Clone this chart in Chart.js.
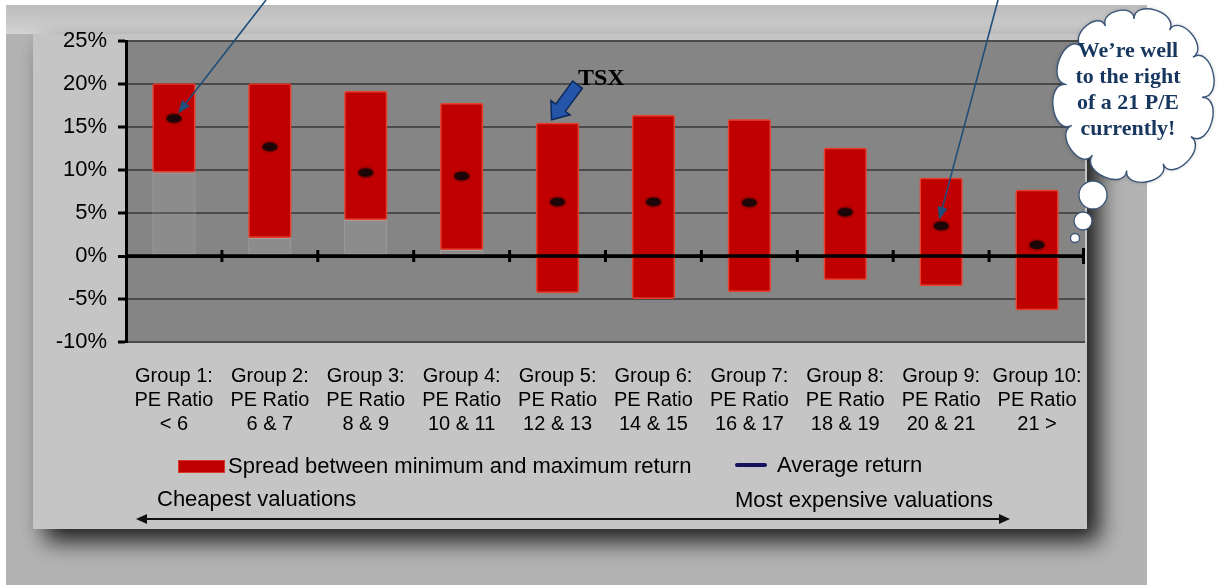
<!DOCTYPE html>
<html>
<head>
<meta charset="utf-8">
<script src="https://cdn.jsdelivr.net/npm/chart.js@4.4.1/dist/chart.umd.min.js"></script>
<style>
  html, body { margin: 0; padding: 0; background: #fff; }
  #wrap { width: 1225px; height: 585px; }
</style>
</head>
<body>
<div id="wrap"><canvas id="c" width="1225" height="585"></canvas></div>
<script>
// ---------- data ----------
const categories = [
  ['Group 1:', 'PE Ratio', '< 6'],
  ['Group 2:', 'PE Ratio', '6 & 7'],
  ['Group 3:', 'PE Ratio', '8 & 9'],
  ['Group 4:', 'PE Ratio', '10 & 11'],
  ['Group 5:', 'PE Ratio', '12 & 13'],
  ['Group 6:', 'PE Ratio', '14 & 15'],
  ['Group 7:', 'PE Ratio', '16 & 17'],
  ['Group 8:', 'PE Ratio', '18 & 19'],
  ['Group 9:', 'PE Ratio', '20 & 21'],
  ['Group 10:', 'PE Ratio', '21 >']
];
const minReturn = [9.7, 2.1, 4.2, 0.7, -4.3, -5.0, -4.2, -2.8, -3.5, -6.3];
const maxReturn = [20.1, 20.1, 19.2, 17.8, 15.5, 16.4, 15.9, 12.6, 9.1, 7.7];
const avgReturn = [16.0, 12.7, 9.7, 9.3, 6.3, 6.3, 6.2, 5.1, 3.5, 1.3];
const yMin = -10, yMax = 25, yStep = 5;
const legendLabels = ['Spread between minimum and maximum return', 'Average return'];
const bottomLabels = ['Cheapest valuations', 'Most expensive valuations'];
const tsxLabel = 'TSX';
const tsxIndex = 4;
const pointerIndexes = [0, 8];
const cloudLines = ['We\u2019re well', 'to the right', 'of a 21 P/E', 'currently!'];

Chart.defaults.font.family = '"Liberation Sans", Arial, sans-serif';

// average marker image
function makeDot() {
  const c = document.createElement('canvas');
  c.width = 24; c.height = 16;
  const g = c.getContext('2d');
  g.shadowColor = 'rgba(30,0,0,0.9)';
  g.shadowBlur = 3;
  g.fillStyle = '#1c0608';
  g.beginPath();
  g.ellipse(12, 8, 7.5, 4.3, 0, 0, Math.PI * 2);
  g.fill();
  return c;
}
const dot = makeDot();

function lineArrow(ctx, x0, y0, x1, y1, color) {
  const ang = Math.atan2(y1 - y0, x1 - x0);
  const hl = 13, hw = 5;
  ctx.save();
  ctx.strokeStyle = color; ctx.fillStyle = color; ctx.lineWidth = 1.6;
  ctx.beginPath();
  ctx.moveTo(x0, y0);
  ctx.lineTo(x1 - Math.cos(ang) * hl * 0.8, y1 - Math.sin(ang) * hl * 0.8);
  ctx.stroke();
  ctx.beginPath();
  ctx.moveTo(x1, y1);
  ctx.lineTo(x1 - Math.cos(ang) * hl + Math.sin(ang) * hw, y1 - Math.sin(ang) * hl - Math.cos(ang) * hw);
  ctx.lineTo(x1 - Math.cos(ang) * hl - Math.sin(ang) * hw, y1 - Math.sin(ang) * hl + Math.cos(ang) * hw);
  ctx.closePath();
  ctx.fill();
  ctx.restore();
}

function blockArrow(ctx, x0, y0, x1, y1) {
  const L = Math.hypot(x1 - x0, y1 - y0);
  const ang = Math.atan2(y1 - y0, x1 - x0);
  ctx.save();
  ctx.translate(x0, y0);
  ctx.rotate(ang);
  const sw = 6, hw = 12, hl = 15;
  ctx.beginPath();
  ctx.moveTo(0, -sw);
  ctx.lineTo(L - hl, -sw);
  ctx.lineTo(L - hl, -hw);
  ctx.lineTo(L, 0);
  ctx.lineTo(L - hl, hw);
  ctx.lineTo(L - hl, sw);
  ctx.lineTo(0, sw);
  ctx.closePath();
  ctx.fillStyle = '#2455a8';
  ctx.fill();
  ctx.strokeStyle = '#0d2a5c';
  ctx.lineWidth = 1.5;
  ctx.stroke();
  ctx.restore();
}

function drawCloud(ctx, cx, cy, rx, ry) {
  const offs = [0, 0.55, 1.05, 1.6, 2.15, 2.7, 3.25, 3.8, 4.3, 4.85, 5.4, 5.85];
  const pts = offs.map(t => {
    const a = -Math.PI / 2 + t;
    return [cx + rx * Math.cos(a), cy + ry * Math.sin(a)];
  });
  ctx.save();
  ctx.beginPath();
  ctx.moveTo(pts[0][0], pts[0][1]);
  for (let k = 0; k < pts.length; k++) {
    const p = pts[k], q = pts[(k + 1) % pts.length];
    const nx1 = p[0] - cx, ny1 = p[1] - cy, n1 = Math.hypot(nx1, ny1);
    const nx2 = q[0] - cx, ny2 = q[1] - cy, n2 = Math.hypot(nx2, ny2);
    const chord = Math.hypot(q[0] - p[0], q[1] - p[1]);
    const d = chord * 0.55;
    ctx.bezierCurveTo(p[0] + nx1 / n1 * d, p[1] + ny1 / n1 * d, q[0] + nx2 / n2 * d, q[1] + ny2 / n2 * d, q[0], q[1]);
  }
  ctx.closePath();
  ctx.shadowColor = 'rgba(0,0,0,0.25)';
  ctx.shadowBlur = 4;
  ctx.fillStyle = '#ffffff';
  ctx.fill();
  ctx.shadowColor = 'transparent';
  ctx.strokeStyle = '#3a5578';
  ctx.lineWidth = 1.4;
  ctx.stroke();
  ctx.restore();
}

function bubble(ctx, x, y, r) {
  ctx.save();
  ctx.beginPath();
  ctx.arc(x, y, r, 0, Math.PI * 2);
  ctx.fillStyle = '#fff';
  ctx.fill();
  ctx.strokeStyle = '#3a5578';
  ctx.lineWidth = 1.3;
  ctx.stroke();
  ctx.restore();
}

const deco = {
  id: 'deco',
  beforeDraw(chart) {
    const { ctx, chartArea: a } = chart;
    ctx.save();
    ctx.fillStyle = '#ffffff';
    ctx.fillRect(0, 0, chart.width, chart.height);
    ctx.fillStyle = '#b3b3b3';
    ctx.fillRect(6, 5, 1141, 580);
    const g = ctx.createLinearGradient(0, 5, 0, 34);
    g.addColorStop(0, '#bdbdbd');
    g.addColorStop(0.8, '#cdcdcd');
    g.addColorStop(1, '#d4d4d4');
    ctx.fillStyle = g;
    ctx.fillRect(6, 5, 1141, 29);
    ctx.save();
    ctx.shadowColor = 'rgba(0,0,0,0.85)';
    ctx.shadowBlur = 22;
    ctx.shadowOffsetX = 12;
    ctx.shadowOffsetY = 12;
    ctx.fillStyle = '#c5c5c5';
    ctx.fillRect(33, 34, 1054, 495);
    ctx.restore();
    ctx.fillStyle = '#858585';
    ctx.fillRect(a.left, a.top, a.right - a.left, a.bottom - a.top);
    ctx.restore();
  },
  beforeDatasetDraw(chart, args) {
    if (args.index === 1) {
      chart.ctx.save();
      chart.ctx.shadowColor = 'rgba(255,60,40,0.85)';
      chart.ctx.shadowBlur = 5;
    }
  },
  afterDatasetDraw(chart, args) {
    if (args.index === 1) chart.ctx.restore();
  },
  afterDatasetsDraw(chart) {
    const { ctx, chartArea: a, scales: { x, y } } = chart;
    const y0 = y.getPixelForValue(0);
    ctx.save();
    ctx.strokeStyle = '#000';
    ctx.lineWidth = 3.5;
    ctx.beginPath();
    ctx.moveTo(a.left, y0);
    ctx.lineTo(a.right, y0);
    ctx.stroke();
    ctx.lineWidth = 3;
    for (let i = 0; i < categories.length; i++) {
      const bx = i < categories.length - 1 ? (x.getPixelForValue(i) + x.getPixelForValue(i + 1)) / 2 : a.right - 1.5;
      const h = i < categories.length - 1 ? 6 : 8;
      ctx.beginPath();
      ctx.moveTo(bx, y0 - h);
      ctx.lineTo(bx, y0 + h);
      ctx.stroke();
    }
    ctx.restore();
  },
  afterDraw(chart) {
    const { ctx, scales: { x, y } } = chart;
    ctx.save();
    // legend
    ctx.fillStyle = '#c00000';
    ctx.strokeStyle = '#d83a28';
    ctx.lineWidth = 1;
    ctx.fillRect(178, 460, 47, 13);
    ctx.strokeRect(178.5, 460.5, 46, 12);
    ctx.fillStyle = '#000';
    ctx.font = '22px "Liberation Sans", Arial, sans-serif';
    ctx.textBaseline = 'middle';
    ctx.textAlign = 'left';
    ctx.fillText(legendLabels[0], 228, 467);
    ctx.strokeStyle = '#14145e';
    ctx.lineWidth = 4;
    ctx.lineCap = 'round';
    ctx.beginPath();
    ctx.moveTo(737, 465);
    ctx.lineTo(765, 465);
    ctx.stroke();
    ctx.fillText(legendLabels[1], 777, 466);
    // valuation labels + arrow
    ctx.fillText(bottomLabels[0], 157, 500);
    ctx.textAlign = 'right';
    ctx.fillText(bottomLabels[1], 993, 501);
    ctx.strokeStyle = '#111';
    ctx.lineWidth = 2;
    ctx.lineCap = 'butt';
    ctx.beginPath();
    ctx.moveTo(144, 519);
    ctx.lineTo(1002, 519);
    ctx.stroke();
    ctx.fillStyle = '#111';
    ctx.beginPath();
    ctx.moveTo(136, 519); ctx.lineTo(147, 514); ctx.lineTo(147, 524); ctx.closePath(); ctx.fill();
    ctx.beginPath();
    ctx.moveTo(1010, 519); ctx.lineTo(999, 514); ctx.lineTo(999, 524); ctx.closePath(); ctx.fill();

    // pointer arrows to averages
    const p0x = x.getPixelForValue(pointerIndexes[0]), p0y = y.getPixelForValue(avgReturn[pointerIndexes[0]]);
    lineArrow(ctx, 266, 0, p0x + 4, p0y - 5, '#1f4e79');
    const p1x = x.getPixelForValue(pointerIndexes[1]), p1y = y.getPixelForValue(avgReturn[pointerIndexes[1]]);
    lineArrow(ctx, 998, 0, p1x - 2, p1y - 6, '#1f4e79');

    // TSX
    const tx = x.getPixelForValue(tsxIndex) - 6;
    const ty = y.getPixelForValue(maxReturn[tsxIndex]) - 3;
    blockArrow(ctx, tx + 26, ty - 35, tx, ty);
    ctx.fillStyle = '#000';
    ctx.font = 'bold 24px "Liberation Serif", "Times New Roman", serif';
    ctx.textAlign = 'left';
    ctx.fillText(tsxLabel, 578, 79);

    // cloud
    bubble(ctx, 1075, 238, 4.5);
    bubble(ctx, 1083, 221, 9);
    bubble(ctx, 1093, 195, 14);
    drawCloud(ctx, 1134, 95, 68, 76);
    ctx.fillStyle = '#17375e';
    ctx.font = 'bold 22px "Liberation Serif", "Times New Roman", serif';
    ctx.textAlign = 'center';
    cloudLines.forEach((t, i) => ctx.fillText(t, 1128, 51 + i * 26));
    ctx.restore();
  }
};

new Chart(document.getElementById('c'), {
  type: 'bar',
  data: {
    labels: categories,
    datasets: [
      {
        label: 'base',
        data: minReturn.map(m => (m > 0 ? [0, m] : null)),
        backgroundColor: 'rgba(170,170,170,0.18)',
        borderColor: 'rgba(200,175,175,0.55)',
        borderWidth: 1,
        borderSkipped: false,
        grouped: false,
        barPercentage: 0.45,
        categoryPercentage: 1,
        order: 3
      },
      {
        label: legendLabels[0],
        data: minReturn.map((m, i) => [m, maxReturn[i]]),
        backgroundColor: '#c00000',
        borderColor: '#e2402c',
        borderWidth: 1.5,
        borderSkipped: false,
        borderRadius: 2,
        grouped: false,
        barPercentage: 0.45,
        categoryPercentage: 1,
        order: 2
      },
      {
        type: 'line',
        label: legendLabels[1],
        data: avgReturn,
        showLine: false,
        pointStyle: dot,
        pointRadius: 7,
        pointHoverRadius: 7,
        order: 1
      }
    ]
  },
  options: {
    responsive: false,
    animation: false,
    events: [],
    layout: { padding: { left: 0, right: 140, top: 41, bottom: 0 } },
    plugins: { legend: { display: false }, tooltip: { enabled: false } },
    scales: {
      x: {
        offset: true,
        afterFit(s) { s.height = 243; },
        grid: { display: false, drawTicks: false, tickLength: 0 },
        border: { display: false },
        ticks: {
          color: '#000',
          font: { size: 20, lineHeight: 1.2 },
          padding: 22,
          maxRotation: 0,
          minRotation: 0,
          autoSkip: false
        }
      },
      y: {
        min: yMin,
        max: yMax,
        afterFit(s) { s.width = 126; },
        ticks: {
          stepSize: yStep,
          color: '#000',
          font: { size: 22 },
          padding: 11,
          callback: v => v + '%'
        },
        grid: {
          color: c => (c.tick && c.tick.value === 0 ? '#000' : '#4a4a4a'),
          lineWidth: c => (c.tick && c.tick.value === 0 ? 3 : 2),
          drawTicks: true,
          tickLength: 8,
          tickColor: '#000',
          tickWidth: 3
        },
        border: { display: true, color: '#000', width: 3 }
      }
    }
  },
  plugins: [deco]
});
</script>
</body>
</html>
